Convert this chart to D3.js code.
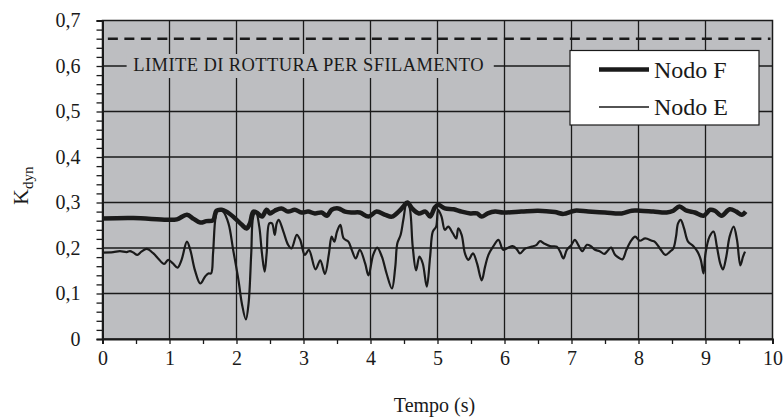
<!DOCTYPE html>
<html>
<head>
<meta charset="utf-8">
<script src="https://cdn.jsdelivr.net/npm/d3@7"></script>
<style>
body { margin: 0; background: #fff; }
text { font-family: "Liberation Serif", "Times New Roman", serif; fill: #1a1a1a; }
</style>
</head>
<body>
<svg id="chart" width="783" height="419"></svg>
<script>
// Nodo E (thin line)
var tE = [0.00,0.16,0.26,0.36,0.41,0.46,0.52,0.58,0.66,0.76,0.83,0.92,0.98,1.05,1.12,1.18,1.26,1.31,1.38,1.46,1.53,1.58,1.62,1.65,1.69,1.73,1.80,1.88,1.95,2.03,2.08,2.14,2.18,2.22,2.25,2.29,2.34,2.38,2.42,2.45,2.49,2.53,2.57,2.60,2.63,2.70,2.77,2.82,2.90,2.95,3.02,3.08,3.18,3.25,3.32,3.38,3.42,3.46,3.50,3.55,3.60,3.67,3.72,3.78,3.84,3.92,3.97,4.04,4.10,4.17,4.24,4.32,4.37,4.40,4.45,4.49,4.54,4.58,4.63,4.68,4.73,4.78,4.84,4.89,4.93,4.98,5.01,5.06,5.11,5.16,5.23,5.28,5.31,5.36,5.41,5.46,5.53,5.59,5.66,5.71,5.76,5.83,5.91,5.98,6.06,6.12,6.18,6.23,6.31,6.41,6.48,6.53,6.59,6.68,6.78,6.83,6.88,6.93,7.00,7.05,7.10,7.16,7.23,7.29,7.35,7.42,7.49,7.54,7.59,7.65,7.70,7.76,7.82,7.89,7.95,8.02,8.10,8.20,8.24,8.32,8.40,8.47,8.52,8.56,8.59,8.63,8.68,8.74,8.82,8.88,8.93,8.97,9.00,9.06,9.12,9.17,9.22,9.26,9.31,9.36,9.42,9.47,9.52,9.56,9.59];
var vE = [0.190,0.191,0.193,0.191,0.193,0.190,0.185,0.192,0.198,0.188,0.177,0.165,0.174,0.166,0.157,0.174,0.214,0.196,0.151,0.122,0.137,0.144,0.144,0.188,0.269,0.285,0.280,0.254,0.196,0.129,0.078,0.043,0.078,0.188,0.269,0.280,0.247,0.188,0.148,0.188,0.254,0.254,0.229,0.254,0.262,0.236,0.207,0.199,0.229,0.218,0.185,0.196,0.153,0.173,0.143,0.188,0.225,0.214,0.236,0.251,0.221,0.214,0.196,0.177,0.196,0.166,0.140,0.185,0.201,0.181,0.144,0.111,0.159,0.210,0.229,0.262,0.299,0.291,0.203,0.151,0.181,0.166,0.115,0.181,0.236,0.247,0.284,0.269,0.240,0.247,0.232,0.221,0.243,0.229,0.188,0.174,0.188,0.166,0.129,0.159,0.185,0.203,0.218,0.196,0.201,0.204,0.198,0.188,0.199,0.203,0.207,0.215,0.210,0.204,0.203,0.192,0.177,0.196,0.207,0.218,0.207,0.193,0.207,0.204,0.196,0.193,0.187,0.194,0.201,0.185,0.179,0.175,0.196,0.216,0.225,0.216,0.221,0.216,0.214,0.199,0.185,0.192,0.199,0.225,0.254,0.262,0.243,0.214,0.204,0.192,0.174,0.144,0.188,0.225,0.236,0.203,0.166,0.153,0.181,0.225,0.247,0.218,0.162,0.181,0.192];

// Nodo F (thick line)
var tF = [0.00,0.46,0.96,1.11,1.26,1.36,1.46,1.55,1.65,1.70,1.78,1.85,1.95,2.08,2.15,2.20,2.25,2.30,2.38,2.45,2.50,2.57,2.67,2.77,2.87,2.97,3.07,3.17,3.27,3.35,3.42,3.52,3.62,3.72,3.84,3.97,4.09,4.22,4.32,4.42,4.49,4.55,4.62,4.72,4.82,4.89,4.96,5.01,5.11,5.24,5.36,5.49,5.59,5.66,5.75,5.86,5.98,6.25,6.50,6.75,6.88,7.05,7.25,7.50,7.75,7.90,8.02,8.22,8.42,8.52,8.61,8.72,8.84,8.97,9.07,9.14,9.24,9.36,9.46,9.54,9.60];
var vF = [0.265,0.266,0.262,0.263,0.273,0.264,0.256,0.259,0.261,0.282,0.284,0.280,0.269,0.251,0.243,0.254,0.280,0.278,0.269,0.284,0.276,0.282,0.287,0.280,0.284,0.278,0.280,0.276,0.278,0.271,0.284,0.287,0.280,0.278,0.278,0.269,0.280,0.273,0.269,0.280,0.291,0.300,0.287,0.276,0.280,0.269,0.289,0.295,0.287,0.285,0.280,0.276,0.276,0.269,0.276,0.280,0.278,0.280,0.282,0.279,0.275,0.282,0.280,0.278,0.276,0.282,0.282,0.280,0.278,0.282,0.291,0.282,0.278,0.271,0.284,0.282,0.271,0.285,0.280,0.273,0.280];

var limite = 0.66;
var xTicks = [0,1,2,3,4,5,6,7,8,9,10];
var yTicks = [0,0.1,0.2,0.3,0.4,0.5,0.6,0.7];

var svg = d3.select("#chart");
var mL = 102.5, mT = 20.5, w = 670, h = 318.5;
var ink = "#1a1a1a";
var serif = "'Liberation Serif', 'Times New Roman', serif";

var x = d3.scaleLinear().domain([0, 10]).range([0, w]);
var y = d3.scaleLinear().domain([0, 0.7]).range([h, 0]);
var fmt = d3.formatLocale({decimal: ",", thousands: ".", grouping: [3], currency: ["", "€"]}).format("~g");

var g = svg.append("g").attr("transform", "translate(" + mL + "," + mT + ")");

g.append("rect").attr("width", w).attr("height", h).attr("fill", "#bdbec1");

// grid
g.selectAll(".vg").data(xTicks.slice(1, -1)).enter().append("line")
  .attr("x1", d => x(d)).attr("x2", d => x(d)).attr("y1", 0).attr("y2", h)
  .attr("stroke", ink).attr("stroke-width", 1.3);
g.selectAll(".hg").data(yTicks.slice(1, -1)).enter().append("line")
  .attr("x1", 0).attr("x2", w).attr("y1", d => y(d)).attr("y2", d => y(d))
  .attr("stroke", ink).attr("stroke-width", 1.3);
g.append("rect").attr("width", w).attr("height", h).attr("fill", "none")
  .attr("stroke", ink).attr("stroke-width", 1.5);

// axes
var yAxis = d3.axisLeft(y).tickValues(d3.range(0, 0.7001, 0.02)).tickSize(6).tickPadding(16)
  .tickFormat(d => (Math.abs(d * 10 - Math.round(d * 10)) < 1e-6 ? fmt(Math.round(d * 10) / 10) : ""));
var ya = g.append("g").call(yAxis).attr("font-family", serif);
ya.select(".domain").attr("stroke", ink).attr("stroke-width", 2);
ya.selectAll(".tick line").attr("stroke", ink).attr("stroke-width", 1.3);
ya.selectAll(".tick text").attr("font-size", 20).attr("fill", ink).style("font-family", serif);

var xAxis = d3.axisBottom(x).tickValues(d3.range(0, 10.01, 0.5)).tickSize(5).tickPadding(7)
  .tickFormat(d => (d % 1 === 0 ? d : ""));
var xa = g.append("g").attr("transform", "translate(0," + h + ")").call(xAxis).attr("font-family", serif);
xa.select(".domain").attr("stroke", ink).attr("stroke-width", 2);
xa.selectAll(".tick line").attr("stroke", ink).attr("stroke-width", 1.3);
xa.selectAll(".tick text").attr("font-size", 20).attr("fill", ink).style("font-family", serif);

// limit line
g.append("line").attr("x1", x(0.08)).attr("x2", w - 2).attr("y1", y(limite)).attr("y2", y(limite))
  .attr("stroke", ink).attr("stroke-width", 2.6).attr("stroke-dasharray", "10,6.5");

g.append("rect").attr("x", x(0.36)).attr("y", y(0.6) - 12).attr("width", x(5.84) - x(0.36)).attr("height", 24)
  .attr("fill", "#bdbec1");
g.append("text").attr("x", x(0.46)).attr("y", y(0.6) + 5).attr("font-size", 18.5)
  .attr("letter-spacing", 0.4).attr("fill", "#333")
  .text("LIMITE DI ROTTURA PER SFILAMENTO");

// series
var line = d3.line().x(d => x(d[0])).y(d => y(d[1])).curve(d3.curveCatmullRom.alpha(0.5));
g.append("path").datum(d3.zip(tE, vE)).attr("d", line)
  .attr("fill", "none").attr("stroke", ink).attr("stroke-width", 2.2).attr("stroke-linejoin", "round");
g.append("path").datum(d3.zip(tF, vF)).attr("d", line)
  .attr("fill", "none").attr("stroke", ink).attr("stroke-width", 4.5).attr("stroke-linejoin", "round");

// legend
var lg = svg.append("g").attr("transform", "translate(570,50.5)");
lg.append("rect").attr("width", 189).attr("height", 74.5).attr("fill", "#fff")
  .attr("stroke", ink).attr("stroke-width", 1.2);
var legendItems = [["Nodo F", 4.5], ["Nodo E", 1.6]];
legendItems.forEach(function (d, i) {
  var yy = 19 + i * 37.5;
  lg.append("line").attr("x1", 29).attr("x2", 79).attr("y1", yy).attr("y2", yy)
    .attr("stroke", ink).attr("stroke-width", d[1]);
  lg.append("text").attr("x", 84).attr("y", yy + 8).attr("font-size", 24).text(d[0]);
});

// titles
svg.append("text").attr("x", mL + w / 2 - 3).attr("y", 412).attr("text-anchor", "middle")
  .attr("font-size", 20).text("Tempo (s)");
var yt = svg.append("text").attr("transform", "translate(28," + (mT + h / 2 + 6) + ") rotate(-90)")
  .attr("text-anchor", "middle").attr("font-size", 22);
yt.append("tspan").text("K");
yt.append("tspan").attr("font-size", 15).attr("dy", 5).text("dyn");
</script>
</body>
</html>
